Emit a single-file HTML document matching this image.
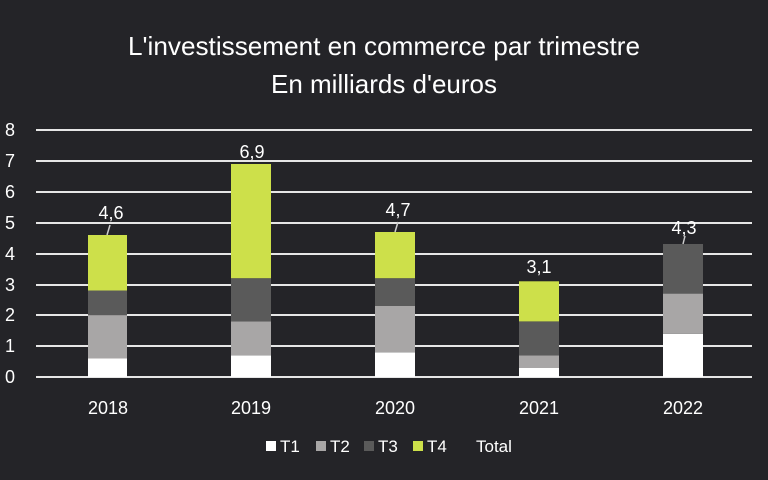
<!DOCTYPE html><html><head><style>body{margin:0;background:#242428}svg{display:block}text{font-family:"Liberation Sans",sans-serif;fill:#fff}</style></head><body>
<svg width="768" height="480" xmlns="http://www.w3.org/2000/svg">
<rect width="768" height="480" fill="#242428"/>
<text x="384" y="55" font-size="26" text-anchor="middle" textLength="512" lengthAdjust="spacingAndGlyphs">L'investissement en commerce par trimestre</text>
<text x="384" y="93" font-size="26" text-anchor="middle" textLength="226" lengthAdjust="spacingAndGlyphs">En milliards d'euros</text>
<g stroke="#e6e6e6" stroke-width="2">
<line x1="36" x2="752" y1="130" y2="130"/><line x1="36" x2="752" y1="161" y2="161"/><line x1="36" x2="752" y1="192" y2="192"/><line x1="36" x2="752" y1="223" y2="223"/><line x1="36" x2="752" y1="254" y2="254"/><line x1="36" x2="752" y1="285" y2="285"/><line x1="36" x2="752" y1="315" y2="315"/><line x1="36" x2="752" y1="346" y2="346"/><line x1="36" x2="752" y1="377" y2="377"/>
</g>
<g font-size="18" text-anchor="start">
<text x="5" y="136">8</text><text x="5" y="167">7</text><text x="5" y="198">6</text><text x="5" y="229">5</text><text x="5" y="260">4</text><text x="5" y="291">3</text><text x="5" y="321">2</text><text x="5" y="352">1</text><text x="5" y="383">0</text>
</g>
<rect x="88" y="358.5" width="39" height="18.5" fill="#fff"/>
<rect x="88" y="315.3" width="39" height="43.2" fill="#a8a6a6"/>
<rect x="88" y="290.5" width="39" height="24.8" fill="#5a5a5a"/>
<rect x="88" y="235" width="39" height="55.5" fill="#cde04a"/>
<rect x="231" y="355.4" width="40" height="21.6" fill="#fff"/>
<rect x="231" y="321.4" width="40" height="34" fill="#a8a6a6"/>
<rect x="231" y="278.2" width="40" height="43.2" fill="#5a5a5a"/>
<rect x="231" y="164" width="40" height="114.2" fill="#cde04a"/>
<rect x="375" y="352.3" width="40" height="24.7" fill="#fff"/>
<rect x="375" y="306" width="40" height="46.3" fill="#a8a6a6"/>
<rect x="375" y="278.2" width="40" height="27.8" fill="#5a5a5a"/>
<rect x="375" y="232" width="40" height="46.2" fill="#cde04a"/>
<rect x="519" y="367.7" width="40" height="9.3" fill="#fff"/>
<rect x="519" y="355.4" width="40" height="12.3" fill="#a8a6a6"/>
<rect x="519" y="321.4" width="40" height="34" fill="#5a5a5a"/>
<rect x="519" y="281.3" width="40" height="40.1" fill="#cde04a"/>
<rect x="663" y="333.8" width="40" height="43.2" fill="#fff"/>
<rect x="663" y="293.6" width="40" height="40.2" fill="#a8a6a6"/>
<rect x="663" y="244" width="40" height="49.6" fill="#5a5a5a"/>
<g stroke="#ccc" stroke-width="1.5">
<line x1="107" y1="235" x2="110" y2="225"/><line x1="395" y1="232" x2="398" y2="222"/><line x1="683" y1="244" x2="685" y2="236"/>
</g>
<g font-size="18" text-anchor="middle">
<text x="111" y="219">4,6</text><text x="252" y="158">6,9</text><text x="398" y="216">4,7</text><text x="539" y="273">3,1</text><text x="684" y="234">4,3</text>
<text x="108" y="414">2018</text><text x="251" y="414">2019</text><text x="395" y="414">2020</text><text x="539" y="414">2021</text><text x="683" y="414">2022</text>
</g>
<g font-size="17">
<rect x="266" y="441" width="10" height="10" fill="#fff"/><text x="280" y="452">T1</text>
<rect x="316" y="441" width="10" height="10" fill="#a8a6a6"/><text x="330" y="452">T2</text>
<rect x="364" y="441" width="10" height="10" fill="#5a5a5a"/><text x="378" y="452">T3</text>
<rect x="413" y="441" width="10" height="10" fill="#cde04a"/><text x="427" y="452">T4</text>
<text x="476" y="452">Total</text>
</g>
</svg></body></html>
